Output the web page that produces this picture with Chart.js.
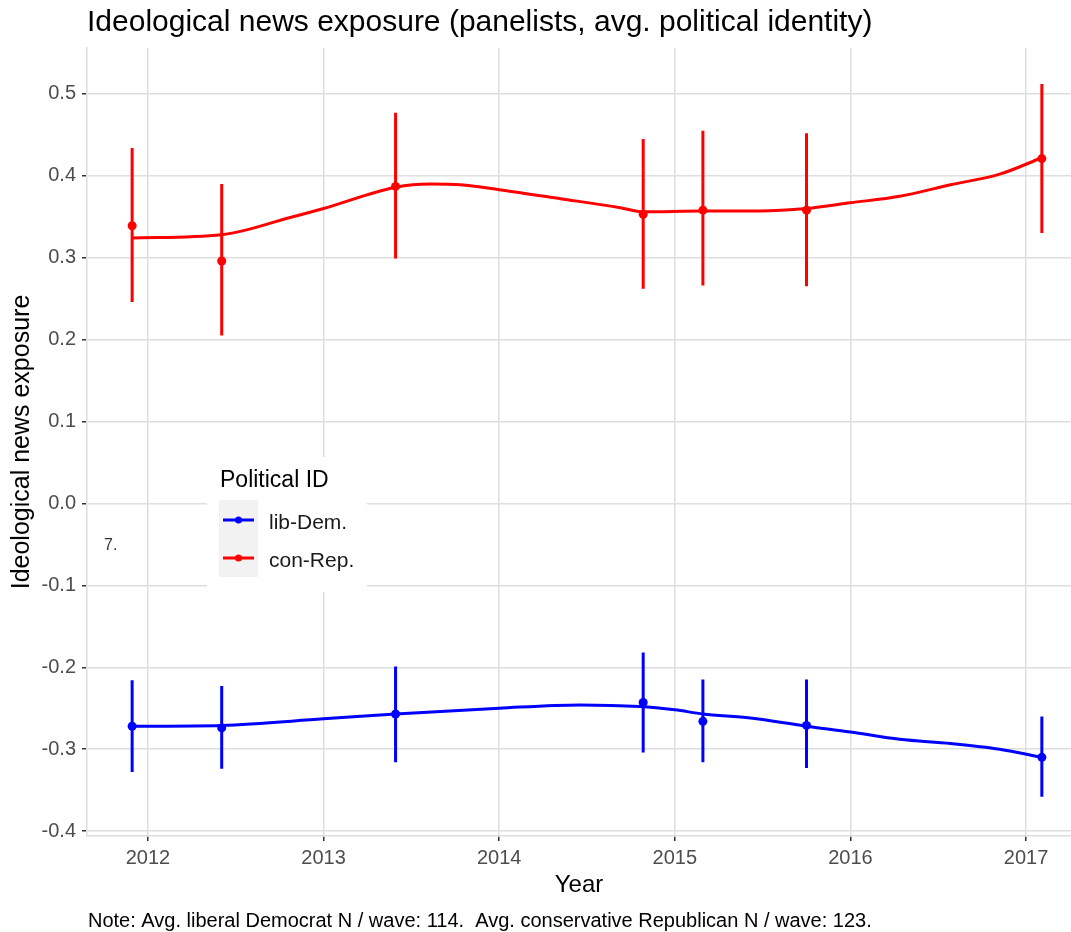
<!DOCTYPE html>
<html lang="en">

<head>
  <meta charset="UTF-8" />
  <meta name="viewport" content="width=device-width, initial-scale=1.0" />
  <script src="https://cdn.jsdelivr.net/npm/chart.js"></script>
  <title>Ideological news exposure</title>
  <style>
    html, body { margin: 0; padding: 0; background: #ffffff; overflow: hidden; }
    #box { width: 1071px; height: 932px; position: relative; }
    canvas { display: block; }
  </style>
</head>

<body>
  <div id="box">
    <canvas id="newsChart"></canvas>
  </div>

  <script>
    // waves (fractional year of each survey wave)
    const waves = [2011.91, 2012.42, 2013.41, 2014.82, 2015.16, 2015.75, 2017.09];

    // wave means and interval ends
    const libDem = [-0.272, -0.274, -0.257, -0.243, -0.266, -0.271, -0.310];
    const libDemLo = [-0.328, -0.324, -0.316, -0.304, -0.316, -0.323, -0.358];
    const libDemHi = [-0.216, -0.223, -0.199, -0.182, -0.215, -0.215, -0.260];

    const conRep = [0.339, 0.296, 0.387, 0.353, 0.358, 0.358, 0.421];
    const conRepLo = [0.246, 0.205, 0.299, 0.262, 0.266, 0.265, 0.330];
    const conRepHi = [0.434, 0.390, 0.477, 0.445, 0.455, 0.452, 0.512];

    // smoothed trend lines
    const conRepSmoothX = [2011.91, 2012.42, 2012.81, 2013.0, 2013.41, 2013.61, 2013.78, 2014.0, 2014.35, 2014.69, 2014.82, 2015.16, 2015.48, 2015.75, 2016.0, 2016.28, 2016.57, 2016.85, 2017.09];
    const conRepSmooth = [0.324, 0.328, 0.349, 0.360, 0.386, 0.390, 0.389, 0.383, 0.372, 0.361, 0.356, 0.357, 0.357, 0.360, 0.367, 0.375, 0.389, 0.402, 0.422];

    const libDemSmoothX = [2011.91, 2012.42, 2013.0, 2013.41, 2014.0, 2014.46, 2014.80, 2015.0, 2015.16, 2015.43, 2015.75, 2016.0, 2016.28, 2016.57, 2016.85, 2017.09];
    const libDemSmooth = [-0.272, -0.271, -0.263, -0.257, -0.250, -0.246, -0.248, -0.252, -0.257, -0.262, -0.272, -0.279, -0.288, -0.293, -0.300, -0.310];

    // axis ticks
    const yearTicks = [2012, 2013, 2014, 2015, 2016, 2017];
    const yTicks = [-0.4, -0.3, -0.2, -0.1, 0.0, 0.1, 0.2, 0.3, 0.4, 0.5];

    const groups = ["lib-Dem.", "con-Rep."];
    const blue = "#0000ff";
    const red = "#ff0000";
    const fam = "'Liberation Sans', Arial, sans-serif";

    function pares(xs, ys) {
      return xs.map((x, i) => ({ x: x, y: ys[i] }));
    }

    // vertical bars, separated by null gaps
    function barras(xs, lo, hi) {
      let out = [];
      for (let i = 0; i < xs.length; i++) {
        out.push({ x: xs[i], y: lo[i] });
        out.push({ x: xs[i], y: hi[i] });
        out.push({ x: xs[i], y: null });
      }
      return out;
    }

    // title, note, legend box and stray label
    const extras = {
      id: "extras",
      afterDraw(chart) {
        const ctx = chart.ctx;
        ctx.save();

        ctx.fillStyle = "#000000";
        ctx.textBaseline = "middle";
        ctx.textAlign = "left";
        ctx.font = "30px " + fam;
        ctx.fillText("Ideological news exposure (panelists, avg. political identity)", 87, 23);

        ctx.font = "20px " + fam;
        ctx.fillText("Note: Avg. liberal Democrat N / wave: 114.  Avg. conservative Republican N / wave: 123.", 88, 921);

        ctx.fillStyle = "#333333";
        ctx.font = "16px " + fam;
        ctx.fillText("7.", 104, 546);

        // legend
        ctx.fillStyle = "#ffffff";
        ctx.fillRect(207, 457, 160, 135);
        ctx.fillStyle = "#000000";
        ctx.font = "23px " + fam;
        ctx.fillText("Political ID", 220, 481);

        ctx.fillStyle = "#f2f2f2";
        ctx.fillRect(219, 500, 39, 77);

        const cores = [blue, red];
        const ys = [520, 558];
        for (let i = 0; i < groups.length; i++) {
          ctx.strokeStyle = cores[i];
          ctx.lineWidth = 3;
          ctx.beginPath();
          ctx.moveTo(223, ys[i]);
          ctx.lineTo(254, ys[i]);
          ctx.stroke();
          ctx.fillStyle = cores[i];
          ctx.beginPath();
          ctx.arc(238.5, ys[i], 3.5, 0, Math.PI * 2);
          ctx.fill();

          ctx.fillStyle = "#1a1a1a";
          ctx.font = "21px " + fam;
          ctx.fillText(groups[i], 269, ys[i] + 3);
        }

        ctx.restore();
      }
    };

    const dados = {
      datasets: [
        {
          label: groups[0] + " trend",
          data: pares(libDemSmoothX, libDemSmooth),
          borderColor: blue,
          borderWidth: 3,
          pointRadius: 0,
          tension: 0.4,
          cubicInterpolationMode: "monotone",
        },
        {
          label: groups[1] + " trend",
          data: pares(conRepSmoothX, conRepSmooth),
          borderColor: red,
          borderWidth: 3,
          pointRadius: 0,
          tension: 0.4,
          cubicInterpolationMode: "monotone",
        },
        {
          label: groups[0] + " interval",
          data: barras(waves, libDemLo, libDemHi),
          borderColor: blue,
          borderWidth: 3,
          pointRadius: 0,
          spanGaps: false,
        },
        {
          label: groups[1] + " interval",
          data: barras(waves, conRepLo, conRepHi),
          borderColor: red,
          borderWidth: 3,
          pointRadius: 0,
          spanGaps: false,
        },
        {
          label: groups[0],
          data: pares(waves, libDem),
          showLine: false,
          pointRadius: 4.5,
          pointBackgroundColor: blue,
          pointBorderWidth: 0,
        },
        {
          label: groups[1],
          data: pares(waves, conRep),
          showLine: false,
          pointRadius: 4.5,
          pointBackgroundColor: red,
          pointBorderWidth: 0,
        },
      ],
    };

    const config = {
      type: "line",
      data: dados,
      plugins: [extras],
      options: {
        responsive: true,
        maintainAspectRatio: false,
        animation: false,
        events: [],
        layout: {
          autoPadding: false,
          padding: { top: 48, right: 0, bottom: 0, left: 0 },
        },
        scales: {
          x: {
            type: "linear",
            min: 2011.653,
            max: 2017.256,
            afterBuildTicks: (scale) => {
              scale.ticks = yearTicks.map((v) => ({ value: v }));
            },
            afterFit: (scale) => {
              scale.height = 96;
            },
            grid: {
              color: "#dedede",
              lineWidth: 1.5,
              tickColor: "#333333",
              tickLength: 5,
              tickWidth: 1.5,
            },
            border: { display: true, color: "#dedede", width: 1.5 },
            ticks: {
              color: "#4d4d4d",
              font: { family: fam, size: 20 },
              padding: 5,
              callback: (v) => String(v),
            },
            title: {
              display: true,
              text: "Year",
              color: "#000000",
              font: { family: fam, size: 24 },
              padding: { top: 0, bottom: 32 },
            },
          },
          y: {
            type: "linear",
            min: -0.406,
            max: 0.556,
            afterBuildTicks: (scale) => {
              scale.ticks = yTicks.map((v) => ({ value: v }));
            },
            afterFit: (scale) => {
              scale.width = 87;
            },
            grid: {
              color: "#dedede",
              lineWidth: 1.5,
              tickColor: "#333333",
              tickLength: 5,
              tickWidth: 1.5,
            },
            border: { display: true, color: "#dedede", width: 1.5 },
            ticks: {
              color: "#4d4d4d",
              font: { family: fam, size: 20 },
              padding: 6,
              callback: (v) => v.toFixed(1),
            },
            title: {
              display: true,
              text: "Ideological news exposure",
              color: "#000000",
              font: { family: fam, size: 25 },
              padding: { top: 7, bottom: 0 },
            },
          },
        },
        plugins: {
          legend: { display: false },
          title: { display: false },
          tooltip: { enabled: false },
        },
      },
    };

    new Chart(document.getElementById("newsChart").getContext("2d"), config);
  </script>
</body>

</html>
